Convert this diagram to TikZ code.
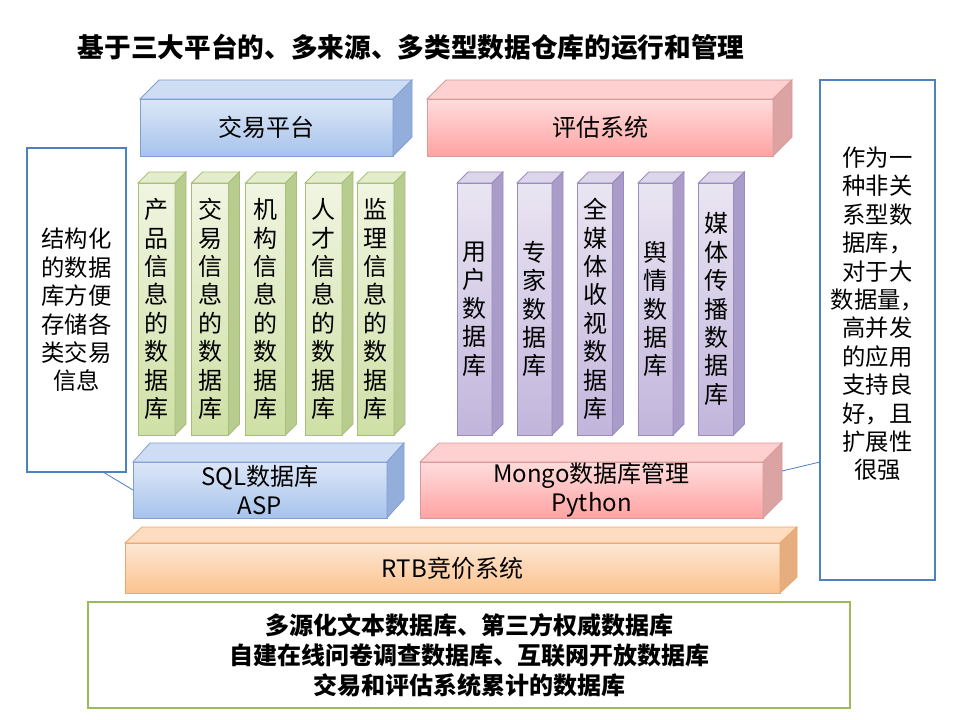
\documentclass[tikz,border=0pt]{standalone}
\usepackage{fontspec}
\setmainfont{Noto Sans CJK SC}
\definecolor{blueT}{HTML}{DCE7F7}
\definecolor{blueB}{HTML}{A7C3EC}
\definecolor{blueD}{HTML}{7F9FD2}
\definecolor{blueS}{HTML}{93AEDB}
\definecolor{blueTop}{HTML}{CFDDF4}
\definecolor{redT}{HTML}{FFDCDC}
\definecolor{redB}{HTML}{FFA3A3}
\definecolor{redD}{HTML}{D99A99}
\definecolor{redS}{HTML}{DCA3A3}
\definecolor{redTop}{HTML}{FFD0D0}
\definecolor{grnT}{HTML}{F0F5E1}
\definecolor{grnB}{HTML}{CFE0A6}
\definecolor{grnD}{HTML}{A9BF78}
\definecolor{grnS}{HTML}{B8CC8F}
\definecolor{grnTop}{HTML}{E4EDCB}
\definecolor{purT}{HTML}{EAE5F2}
\definecolor{purB}{HTML}{C2B5DC}
\definecolor{purD}{HTML}{9C8BC0}
\definecolor{purS}{HTML}{AA9CC9}
\definecolor{purTop}{HTML}{DDD5EA}
\definecolor{orT}{HTML}{FDE7D4}
\definecolor{orB}{HTML}{FBC38F}
\definecolor{orD}{HTML}{EDA56A}
\definecolor{orS}{HTML}{E6AE7E}
\definecolor{orTop}{HTML}{FDDCC0}
\definecolor{callB}{HTML}{4F81BD}
\definecolor{olive}{HTML}{9BBB59}
\newcommand\boxfaces[6]{%
  \filldraw[draw=#6, fill=#4, line width=0.6pt] (#1.north west) -- ++(#2,#3) -- ([shift={(#2,#3)}]#1.north east) -- (#1.north east) -- cycle;
  \filldraw[draw=#6, fill=#5, line width=0.6pt] (#1.north east) -- ++(#2,#3) -- ([shift={(#2,#3)}]#1.south east) -- (#1.south east) -- cycle;
}
\begin{document}
\begin{tikzpicture}[x=0.75pt,y=-0.75pt,
  face/.style={outer sep=0pt, inner sep=0pt, align=center, line width=0.6pt,
    font=\fontsize{18}{21.75}\selectfont},
  bluebox/.style={face, draw=blueD, top color=blueT, bottom color=blueB},
  redbox/.style={face, draw=redD, top color=redT, bottom color=redB},
  grnbox/.style={face, draw=grnD, top color=grnT, bottom color=grnB, minimum height=189pt, minimum width=27.75pt,
    font=\fontsize{18}{21.3}\selectfont},
  purbox/.style={face, draw=purD, top color=purT, bottom color=purB, minimum height=189pt, minimum width=26.25pt,
    font=\fontsize{18}{21.3}\selectfont},
  orbox/.style={face, draw=orD, top color=orT, bottom color=orB},
  callout/.style={draw=callB, line width=2pt, fill=white, outer sep=0pt, inner sep=0pt, align=center,
    font=\fontsize{17.5}{21.3}\selectfont},
  pointer/.style={draw=callB, line width=0.6pt},
  ]
\useasboundingbox (0,0) rectangle (960,720);
\fill[white] (0,0) rectangle (960,720);

% title
\node[font=\bfseries\fontsize{20}{24}\selectfont] (title) at (411,47) {基于三大平台的、多来源、多类型数据仓库的运行和管理};

% platforms
\node[bluebox, minimum width=189.75pt, minimum height=42.75pt] (trade) at (266.5,127.5) {交易平台};
\boxfaces{trade}{19}{-19}{blueTop}{blueS}{blueD}
\node[redbox, minimum width=259.5pt, minimum height=42.75pt] (eval) at (600,127.5) {评估系统};
\boxfaces{eval}{19}{-19}{redTop}{redS}{redD}

% green columns
\node[grnbox] (g1) at (156.5,309) {产\\品\\信\\息\\的\\数\\据\\库};
\boxfaces{g1}{11}{-11}{grnTop}{grnS}{grnD}
\node[grnbox] (g2) at (210,309) {交\\易\\信\\息\\的\\数\\据\\库};
\boxfaces{g2}{11}{-11}{grnTop}{grnS}{grnD}
\node[grnbox, minimum width=30pt] (g3) at (265.5,309) {机\\构\\信\\息\\的\\数\\据\\库};
\boxfaces{g3}{11}{-11}{grnTop}{grnS}{grnD}
\node[grnbox] (g4) at (323.5,309) {人\\才\\信\\息\\的\\数\\据\\库};
\boxfaces{g4}{11}{-11}{grnTop}{grnS}{grnD}
\node[grnbox] (g5) at (375.5,309) {监\\理\\信\\息\\的\\数\\据\\库};
\boxfaces{g5}{11}{-11}{grnTop}{grnS}{grnD}

% purple columns
\node[purbox] (p1) at (474.5,309) {用\\户\\数\\据\\库};
\boxfaces{p1}{11}{-11}{purTop}{purS}{purD}
\node[purbox] (p2) at (534.5,309) {专\\家\\数\\据\\库};
\boxfaces{p2}{11}{-11}{purTop}{purS}{purD}
\node[purbox] (p3) at (595,309) {全\\媒\\体\\收\\视\\数\\据\\库};
\boxfaces{p3}{11}{-11}{purTop}{purS}{purD}
\node[purbox] (p4) at (655.5,309) {舆\\情\\数\\据\\库};
\boxfaces{p4}{11}{-11}{purTop}{purS}{purD}
\node[purbox] (p5) at (716,309) {媒\\体\\传\\播\\数\\据\\库};
\boxfaces{p5}{11}{-11}{purTop}{purS}{purD}

% database layers
\node[bluebox, minimum width=190.5pt, minimum height=42pt] (sql) at (260,490) {SQL数据库\\ASP};
\boxfaces{sql}{17}{-19}{blueTop}{blueS}{blueD}
\node[redbox, minimum width=257.25pt, minimum height=42pt] (mongo) at (591.5,490) {Mongo数据库管理\\Python};
\boxfaces{mongo}{19}{-19}{redTop}{redS}{redD}

% RTB
\node[orbox, minimum width=491.25pt, minimum height=37.5pt] (rtb) at (452.5,568) {RTB竞价系统};
\boxfaces{rtb}{17}{-16}{orTop}{orS}{orD}

% bottom sources
\node[draw=olive, line width=2.2pt, minimum width=571.5pt, minimum height=79.5pt, align=center, inner sep=0pt,
  font=\bfseries\fontsize{18}{22.5}\selectfont] (src) at (469,655)
  {多源化文本数据库、第三方权威数据库\\自建在线问卷调查数据库、互联网开放数据库\\交易和评估系统累计的数据库};

% callouts
\node[callout, minimum width=74.25pt, minimum height=243pt] (lcall) at (76.5,310)
  {结构化\\的数据\\库方便\\存储各\\类交易\\信息};
\draw[pointer] ([shift={(-23,0)}]lcall.south east) -- (sql.west);

\node[callout, minimum width=86.25pt, minimum height=375pt] (rcall) at (877.5,330) {};
\node[align=center, inner sep=0pt, font=\fontsize{17.5}{21.3}\selectfont] (rtext) at (877.5,314)
  {作为一\\种非关\\系型数\\据库，\\对于大\\数据量，\\高并发\\的应用\\支持良\\好，且\\扩展性\\很强};
\draw[pointer] ([shift={(0,132)}]rcall.west) -- ([shift={(19,-19)}]mongo.east);
\end{tikzpicture}
\end{document}
